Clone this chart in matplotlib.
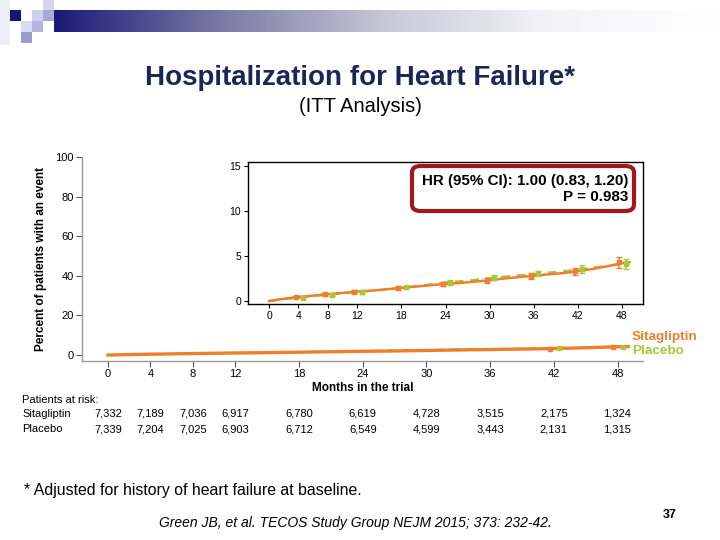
import matplotlib
matplotlib.use("Agg")
import matplotlib.pyplot as plt
import numpy as np
from matplotlib.patches import Rectangle, FancyBboxPatch
from matplotlib.colors import LinearSegmentedColormap
from matplotlib.transforms import blended_transform_factory

plt.rcParams["font.family"] = ["Liberation Sans", "DejaVu Sans"]

# ---- data ----
months = [0, 2, 4, 6, 8, 10, 12, 14, 16, 18, 20, 22, 24, 26, 28, 30, 32, 34, 36, 38, 40, 42, 44, 46, 48, 49]
sita = [0, 0.25, 0.45, 0.6, 0.75, 0.9, 1.05, 1.15, 1.3, 1.45, 1.6, 1.75, 1.9, 2.0, 2.15, 2.3,
        2.5, 2.65, 2.8, 2.95, 3.1, 3.3, 3.55, 3.85, 4.2, 4.3]
plac = [0, 0.2, 0.35, 0.55, 0.7, 0.85, 1.0, 1.15, 1.3, 1.5, 1.65, 1.85, 2.05, 2.2, 2.35, 2.55,
        2.7, 2.85, 3.0, 3.15, 3.3, 3.5, 3.7, 3.9, 4.05, 4.1]

ci_months = [4, 8, 12, 18, 24, 30, 36, 42, 48]
sita_ci_mid = [0.45, 0.75, 1.05, 1.45, 1.9, 2.3, 2.8, 3.3, 4.3]
sita_ci_half = [0.12, 0.15, 0.17, 0.2, 0.24, 0.27, 0.32, 0.4, 0.6]
plac_ci_mid = [0.35, 0.7, 1.0, 1.5, 2.05, 2.6, 3.05, 3.55, 4.05]
plac_ci_half = [0.12, 0.15, 0.17, 0.2, 0.24, 0.28, 0.32, 0.4, 0.55]

tick_months = [0, 4, 8, 12, 18, 24, 30, 36, 42, 48]
risk_sita = ["7,332", "7,189", "7,036", "6,917", "6,780", "6,619", "4,728", "3,515", "2,175", "1,324"]
risk_plac = ["7,339", "7,204", "7,025", "6,903", "6,712", "6,549", "4,599", "3,443", "2,131", "1,315"]

ORANGE = "#EE7F2D"
GREEN = "#A6C83A"
NAVY = "#1B2556"

W, H = 720, 540
fig = plt.figure(figsize=(7.2, 5.4), dpi=100)


def fx(px):
    return px / W


def fy(py):
    return 1 - py / H


# ---- slide header decoration ----
sq = 11
squares = [
    (10, 10, "#14147A"), (32, 10, "#D0D0EC"), (43, 0, "#D4D4EE"), (43, 10, "#A8A8D4"),
    (21, 21, "#DADAF0"), (32, 21, "#B4B4DC"), (21, 32, "#9C9CCC"),
]
for x0, y0, c in squares:
    fig.patches.append(Rectangle((fx(x0), fy(y0 + sq)), fx(sq), sq / H, transform=fig.transFigure,
                                 facecolor=c, edgecolor="none"))
fig.patches.append(Rectangle((0, fy(45)), fx(10), 45 / H, transform=fig.transFigure,
                             facecolor="#EEEEF8", edgecolor="none"))

band = fig.add_axes([fx(54), fy(32), fx(W - 54), 22 / H])
cmap = LinearSegmentedColormap.from_list("band", ["#1A1A78", "#7A7AA6", "#C8C8D8", "#F4F4F8", "#FFFFFF"])
band.imshow(np.linspace(0, 1, 400)[None, :], aspect="auto", cmap=cmap)
band.axis("off")

# ---- titles ----
fig.text(0.5, fy(78), "Hospitalization for Heart Failure*", ha="center", va="center",
         fontsize=20, fontweight="bold", color=NAVY)
fig.text(0.5, fy(107), "(ITT Analysis)", ha="center", va="center", fontsize=14.5, color="black")

# ---- main axes ----
ax = fig.add_axes([fx(82), fy(361), fx(643 - 82), (361 - 157) / H])
ax.plot(months, sita, color=ORANGE, lw=2.4, zorder=3)
ax.plot(months, plac, color=GREEN, lw=1.6, ls=(0, (4, 3)), zorder=2)
ax.errorbar([m - 0.4 for m in ci_months[-2:]], sita_ci_mid[-2:], fmt="s", ms=3, color=ORANGE, zorder=4)
ax.errorbar([m + 0.5 for m in ci_months[-2:]], plac_ci_mid[-2:], fmt="s", ms=3, color=GREEN, zorder=4)
ax.set_xlim(-2.45, 50.4)
ax.set_ylim(-3, 100)
ax.set_xticks(tick_months)
ax.set_yticks([0, 20, 40, 60, 80, 100])
ax.tick_params(labelsize=8, length=4, width=0.8, color="#555555", pad=2)
for s in ["top", "right"]:
    ax.spines[s].set_visible(False)
for s in ["left", "bottom"]:
    ax.spines[s].set_color("#999999")
    ax.spines[s].set_linewidth(1.0)
ax.set_ylabel("Percent of patients with an event", fontsize=8.5, fontweight="bold", labelpad=6)
ax.patch.set_alpha(0)

fig.text(fx(363), fy(388), "Months in the trial", ha="center", va="center", fontsize=8.5, fontweight="bold")

fig.text(fx(632), fy(337), "Sitagliptin", ha="left", va="center", fontsize=9.7, fontweight="bold", color=ORANGE)
fig.text(fx(632), fy(351), "Placebo", ha="left", va="center", fontsize=9.7, fontweight="bold", color=GREEN)

# ---- inset ----
ins = fig.add_axes([fx(248), fy(304), fx(643 - 248), (304 - 162) / H])
ins.plot(months, sita, color=ORANGE, lw=1.8, zorder=3)
ins.plot(months, plac, color=GREEN, lw=1.6, ls=(0, (4, 3)), zorder=2)
ins.errorbar([m - 0.4 for m in ci_months], sita_ci_mid, yerr=sita_ci_half, fmt="s", ms=2.5,
             color=ORANGE, capsize=2, elinewidth=1.2, zorder=4)
ins.errorbar([m + 0.6 for m in ci_months], plac_ci_mid, yerr=plac_ci_half, fmt="s", ms=2.5,
             color=GREEN, capsize=2, elinewidth=1.2, zorder=3)
ins.set_xlim(-2.86, 50.85)
ins.set_ylim(-0.33, 15.4)
ins.set_xticks(tick_months)
ins.set_yticks([0, 5, 10, 15])
ins.tick_params(labelsize=7.5, length=3, width=0.8, pad=2)
for s in ins.spines.values():
    s.set_linewidth(1.0)

box = FancyBboxPatch((fx(412), fy(211)), fx(222), 45 / H, boxstyle="round,pad=0,rounding_size=0.012",
                     transform=fig.transFigure, facecolor="white", edgecolor="#A3161C", lw=3, zorder=5)
fig.patches.append(box)
fig.text(fx(628), fy(181), "HR (95% CI): 1.00 (0.83, 1.20)", ha="right", va="center",
         fontsize=10.9, fontweight="bold", zorder=6)
fig.text(fx(628), fy(197), "P = 0.983", ha="right", va="center", fontsize=10.9, fontweight="bold", zorder=6)

# ---- patients at risk ----
narrow = ["Liberation Sans Narrow", "Liberation Sans", "DejaVu Sans"]
tr = blended_transform_factory(ax.transData, fig.transFigure)
fig.text(fx(22), fy(400), "Patients at risk:", ha="left", va="center", fontsize=8, family=narrow)
fig.text(fx(22), fy(414), "Sitagliptin", ha="left", va="center", fontsize=8, family=narrow)
fig.text(fx(22), fy(429), "Placebo", ha="left", va="center", fontsize=8, family=narrow)
for m, a, b in zip(tick_months, risk_sita, risk_plac):
    fig.text(m, fy(414), a, ha="center", va="center", fontsize=8, family=narrow, transform=tr)
    fig.text(m, fy(429), b, ha="center", va="center", fontsize=8, family=narrow, transform=tr)

# ---- footer ----
fig.text(fx(24), fy(491), "* Adjusted for history of heart failure at baseline.", ha="left", va="center",
         fontsize=11.4)
fig.text(fx(355), fy(523), "Green JB, et al. TECOS Study Group NEJM 2015; 373: 232-42.", ha="center",
         va="center", fontsize=10, style="italic")
fig.text(fx(670), fy(515), "37", ha="center", va="center", fontsize=9, fontweight="bold")

fig.savefig("out.png", dpi=100)
